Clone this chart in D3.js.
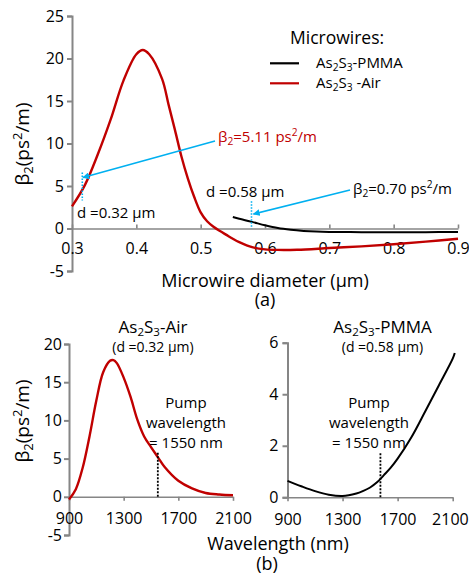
<!DOCTYPE html>
<html>
<head>
<meta charset="utf-8">
<script src="https://cdn.jsdelivr.net/npm/d3@7"></script>
<style>
  body { margin: 0; background: #fff; }
  text { font-family: "Open Sans", Lato, sans-serif; fill: #000; }
</style>
</head>
<body>
<div id="chart"></div>
<script>
// (a) beta2 vs microwire diameter
const diamAir = [0.30, 0.32, 0.34, 0.36, 0.38, 0.40, 0.41, 0.42, 0.44, 0.45, 0.46, 0.47, 0.48, 0.49, 0.50, 0.51, 0.52, 0.53, 0.54, 0.55, 0.56, 0.58, 0.60, 0.62, 0.65, 0.70, 0.75, 0.80, 0.85, 0.90];
const betaAirA = [2.6, 5.1, 8.7, 12.8, 17.4, 20.5, 21.0, 20.5, 17.6, 14.6, 11.6, 8.5, 5.9, 3.7, 1.9, 0.85, 0.2, -0.3, -0.75, -1.2, -1.6, -2.2, -2.45, -2.52, -2.5, -2.3, -2.1, -1.85, -1.55, -1.2];
const diamPmma = [0.55, 0.56, 0.58, 0.60, 0.62, 0.64, 0.66, 0.68, 0.70, 0.75, 0.80, 0.85, 0.90];
const betaPmmaA = [1.35, 1.15, 0.78, 0.38, 0.05, -0.15, -0.28, -0.36, -0.4, -0.43, -0.44, -0.43, -0.42];
const diamTicks = [0.3, 0.4, 0.5, 0.6, 0.7, 0.8, 0.9];
const betaTicksA = [-5, 0, 5, 10, 15, 20, 25];

// (b) beta2 vs wavelength
const wlAir = [900, 950, 1000, 1050, 1100, 1150, 1200, 1225, 1250, 1300, 1350, 1400, 1450, 1500, 1550, 1600, 1700, 1800, 1900, 2000, 2100];
const betaAirB = [-0.35, 1.0, 3.8, 7.9, 12.6, 16.3, 17.8, 17.9, 17.5, 15.6, 13.1, 10.1, 7.9, 6.5, 5.2, 3.9, 2.1, 1.1, 0.5, 0.3, 0.2];
const wlPmma = [900, 1000, 1100, 1200, 1300, 1400, 1450, 1500, 1550, 1600, 1650, 1700, 1800, 1900, 2000, 2100, 2115];
const betaPmmaB = [0.64, 0.43, 0.24, 0.1, 0.05, 0.15, 0.25, 0.38, 0.58, 0.86, 1.15, 1.5, 2.33, 3.33, 4.35, 5.38, 5.6];
const wlTicks = [900, 1300, 1700, 2100];
const betaTicksAir = [-5, 0, 5, 10, 15, 20];
const betaTicksPmma = [0, 2, 4, 6];
const pumpWl = [1550, 1575];
const pumpTop = [5.95, 1.75];

const red = '#c00000', blue = '#00b0f0', grey = '#868686';
const width = 469, height = 574;
const plain = d => (d < 0 ? '-' : '') + Math.abs(d);

const svg = d3.select('#chart').append('svg')
  .attr('width', width).attr('height', height);

svg.append('defs').append('marker')
  .attr('id', 'arr').attr('viewBox', '0 0 10 10')
  .attr('refX', 9).attr('refY', 5)
  .attr('markerWidth', 7).attr('markerHeight', 7)
  .attr('markerUnits', 'userSpaceOnUse')
  .attr('orient', 'auto')
  .append('path').attr('d', 'M0,0L10,5L0,10z').attr('fill', blue);

// '_' makes the next char a subscript, '^' a superscript
function rich(t, str) {
  let i = 0;
  while (i < str.length) {
    const c = str[i];
    if ((c === '_' || c === '^') && i + 1 < str.length) {
      t.append('tspan').text(str[i + 1])
        .attr('font-size', '68%')
        .attr('baseline-shift', c === '_' ? '-0.3em' : '0.55em');
      i += 2;
    } else {
      let j = i;
      while (j < str.length && str[j] !== '_' && str[j] !== '^') j++;
      t.append('tspan').text(str.slice(i, j));
      i = j;
    }
  }
  return t;
}

function label(x, y, str, size, opts = {}) {
  const t = svg.append('text')
    .attr('x', x).attr('y', y)
    .attr('font-size', size)
    .attr('text-anchor', opts.anchor || 'middle');
  if (opts.fill) t.style('fill', opts.fill);
  if (opts.rotate) t.attr('transform', `rotate(-90,${x},${y})`);
  return rich(t, str);
}

function styleAxis(g, w) {
  g.selectAll('path, line').attr('stroke', grey).attr('stroke-width', w);
  g.selectAll('text').attr('font-size', 16).style('fill', '#000')
    .attr('font-family', '"Open Sans", Lato, sans-serif');
}

const smooth = d3.curveCatmullRom.alpha(0.5);

// ---------- (a) ----------
const xA = d3.scaleLinear().domain([0.3, 0.9]).range([72, 458]);
const yA = d3.scaleLinear().domain([-5, 25]).range([271, 16]);

svg.append('g').attr('transform', `translate(72,0)`)
  .call(d3.axisLeft(yA).tickValues(betaTicksA).tickSize(5).tickPadding(3).tickFormat(plain))
  .call(g => styleAxis(g, 2));

svg.append('g').attr('transform', `translate(0,${yA(0)})`)
  .call(d3.axisBottom(xA).tickValues(diamTicks).tickSizeInner(-4).tickSizeOuter(0).tickPadding(14)
    .tickFormat(d3.format('.1f')))
  .call(g => styleAxis(g, 1.6));

const lineA = (xs, ys) => d3.line().curve(smooth)
  .x((d, i) => xA(xs[i])).y(d => yA(d))(ys);

svg.append('path').attr('d', lineA(diamAir, betaAirA))
  .attr('fill', 'none').attr('stroke', red).attr('stroke-width', 2.4);
svg.append('path').attr('d', lineA(diamPmma, betaPmmaA))
  .attr('fill', 'none').attr('stroke', '#000').attr('stroke-width', 2);

// markers at the chosen diameters
svg.append('line').attr('x1', xA(0.316)).attr('x2', xA(0.316))
  .attr('y1', yA(6.6)).attr('y2', yA(3.3))
  .attr('stroke', blue).attr('stroke-width', 1.6).attr('stroke-dasharray', '1.5,1.5');
svg.append('line').attr('x1', xA(0.579)).attr('x2', xA(0.579))
  .attr('y1', yA(3.2)).attr('y2', yA(0))
  .attr('stroke', blue).attr('stroke-width', 1.6).attr('stroke-dasharray', '1.5,1.5');

svg.append('line').attr('x1', 215).attr('y1', 141).attr('x2', xA(0.317)).attr('y2', yA(6.0))
  .attr('stroke', blue).attr('stroke-width', 1.6).attr('marker-end', 'url(#arr)');
svg.append('line').attr('x1', 350).attr('y1', 190).attr('x2', xA(0.582)).attr('y2', yA(1.7))
  .attr('stroke', blue).attr('stroke-width', 1.6).attr('marker-end', 'url(#arr)');

label(218, 142, 'β_2=5.11 ps^2/m', 15, { anchor: 'start', fill: red });
label(353, 194, 'β_2=0.70 ps^2/m', 15, { anchor: 'start' });
label(77, 218, 'd =0.32 μm', 15, { anchor: 'start' });
label(206, 197, 'd =0.58 μm', 15, { anchor: 'start' });

// legend
label(290, 44, 'Microwires:', 17.5, { anchor: 'start' });
svg.append('line').attr('x1', 270).attr('x2', 299).attr('y1', 63.3).attr('y2', 63.3)
  .attr('stroke', '#000').attr('stroke-width', 2.2);
svg.append('line').attr('x1', 270).attr('x2', 299).attr('y1', 83.3).attr('y2', 83.3)
  .attr('stroke', red).attr('stroke-width', 2.2);
label(316, 68, 'As_2S_3-PMMA', 15, { anchor: 'start' });
label(316, 88, 'As_2S_3 -Air', 15, { anchor: 'start' });

label(29, 144, 'β_2(ps^2/m)', 19, { rotate: true });
label(265, 287, 'Microwire diameter (μm)', 18);
label(265, 306, '(a)', 18);

// ---------- (b) ----------
const xL = d3.scaleLinear().domain([900, 2100]).range([69, 233]);
const yL = d3.scaleLinear().domain([-5, 20]).range([535, 344]);
const xR = d3.scaleLinear().domain([900, 2100]).range([287.5, 452.7]);
const yR = d3.scaleLinear().domain([0, 6]).range([497.3, 342.7]);

const panels = [
  { x: xL, y: yL, ticks: betaTicksAir, wl: wlAir, beta: betaAirB, color: red, pad: 2,
    title: 'As_2S_3-Air', sub: '(d =0.32 μm)', cx: 153, tx: 186 },
  { x: xR, y: yR, ticks: betaTicksPmma, wl: wlPmma, beta: betaPmmaB, color: '#000', pad: 4,
    title: 'As_2S_3-PMMA', sub: '(d =0.58 μm)', cx: 382.5, tx: 369 }
];

panels.forEach((p, k) => {
  svg.append('g').attr('transform', `translate(${p.x.range()[0]},0)`)
    .call(d3.axisLeft(p.y).tickValues(p.ticks).tickSize(5).tickPadding(p.pad).tickFormat(plain))
    .call(g => styleAxis(g, 2));
  const xg = svg.append('g').attr('transform', `translate(0,${p.y(0)})`)
    .call(d3.axisBottom(p.x).tickValues(wlTicks).tickSizeInner(4).tickSizeOuter(0).tickPadding(12)
      .tickFormat(d => String(d)))
    .call(g => styleAxis(g, 1.6));
  // keep the last label of the right panel inside the page
  if (k === 1) {
    xg.selectAll('.tick text').filter(d => d === 2100)
      .attr('text-anchor', 'end').attr('x', 15.5);
  }

  svg.append('path')
    .attr('d', d3.line().curve(smooth)
      .x((d, i) => p.x(p.wl[i])).y(d => p.y(d))(p.beta))
    .attr('fill', 'none').attr('stroke', p.color).attr('stroke-width', k === 0 ? 2.4 : 2);

  svg.append('line')
    .attr('x1', p.x(pumpWl[k])).attr('x2', p.x(pumpWl[k]))
    .attr('y1', p.y(0)).attr('y2', p.y(pumpTop[k]))
    .attr('stroke', '#000').attr('stroke-width', 1.8).attr('stroke-dasharray', '2,1.5');

  label(p.cx, 333, p.title, 17);
  label(p.cx, 352, p.sub, 14);
  label(p.tx, 408, 'Pump', 15);
  label(p.tx, 428, 'wavelength', 15);
  label(p.tx, 448, '= 1550 nm', 15);
});

label(29, 421, 'β_2(ps^2/m)', 19, { rotate: true });
label(278, 550, 'Wavelength (nm)', 18);
label(267, 570, '(b)', 18);
</script>
</body>
</html>
